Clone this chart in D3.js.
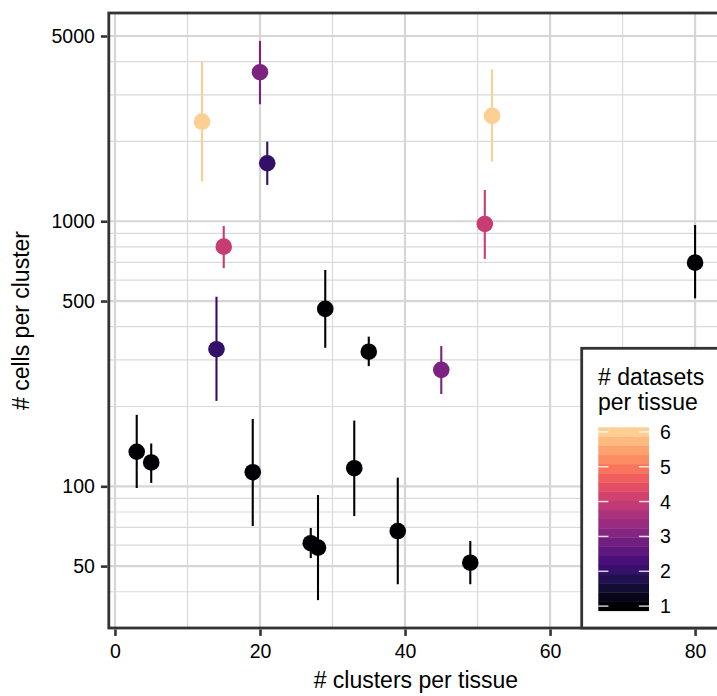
<!DOCTYPE html>
<html>
<head>
<meta charset="utf-8">
<script src="https://cdn.jsdelivr.net/npm/d3@7"></script>
<style>
  body { margin: 0; background: #fff; }
  text { font-family: "Liberation Sans", Arial, Helvetica, sans-serif; fill: #000; }
</style>
</head>
<body>
<svg id="chart" width="717" height="696"></svg>
<script>
// Per-tissue summary: clusters per tissue vs. median cells per cluster (with range)
const clustersPerTissue = [12, 20, 21, 15, 14, 29, 35, 45, 51, 52, 80, 3, 5, 19, 27, 28, 33, 39, 49];
const cellsPerCluster   = [2376, 3650, 1655, 802, 329, 467, 322, 275, 977, 2497, 698, 135, 123, 113, 61, 58.7, 117, 67.8, 51.5];
const cellsLow          = [1411, 2764, 1371, 665, 210, 333, 284, 223, 721, 1679, 512, 98.5, 103, 70.8, 53.6, 37.2, 77.2, 42.7, 42.7];
const cellsHigh         = [4003, 4790, 1997, 960, 519, 655, 367, 338, 1312, 3746, 968, 186, 145, 179.5, 69.6, 92.7, 177, 107.8, 62.2];
const datasetsPerTissue = [6, 3, 2, 4, 2, 1, 1, 3, 4, 6, 1, 1, 1, 1, 1, 1, 1, 1, 1];

const xTicks = [0, 20, 40, 60, 80];
const xMinor = [10, 30, 50, 70];
const yTicks = [50, 100, 500, 1000, 5000];
const yMinor = [40, 60, 70, 80, 90, 200, 300, 400, 600, 700, 800, 900, 2000, 3000, 4000];
const legendTicks = [1, 2, 3, 4, 5, 6];
const legendTitle = ["# datasets", "per tissue"];

const svg = d3.select("#chart");

const panel = { left: 108.8, top: 13, right: 723, bottom: 628 };

const x = d3.scaleLinear().domain([-0.85, 83.85]).range([panel.left, panel.right]);
const y = d3.scaleLog().domain([29.2, 6105]).range([panel.bottom, panel.top]);

// magma palette, trimmed at the light end
const color = v => d3.interpolateMagma((v - 1) / 5 * 0.9);

// grid
const grid = svg.append("g");
grid.selectAll(".ymin").data(yMinor).join("line")
  .attr("x1", panel.left).attr("x2", panel.right)
  .attr("y1", d => y(d)).attr("y2", d => y(d))
  .attr("stroke", "#dadada").attr("stroke-width", 1.2);
grid.selectAll(".xmin").data(xMinor).join("line")
  .attr("y1", panel.top).attr("y2", panel.bottom)
  .attr("x1", d => x(d)).attr("x2", d => x(d))
  .attr("stroke", "#dadada").attr("stroke-width", 1.2);
grid.selectAll(".ymaj").data(yTicks).join("line")
  .attr("x1", panel.left).attr("x2", panel.right)
  .attr("y1", d => y(d)).attr("y2", d => y(d))
  .attr("stroke", "#d6d6d6").attr("stroke-width", 2.2);
grid.selectAll(".xmaj").data(xTicks).join("line")
  .attr("y1", panel.top).attr("y2", panel.bottom)
  .attr("x1", d => x(d)).attr("x2", d => x(d))
  .attr("stroke", "#d6d6d6").attr("stroke-width", 2.2);

// points with ranges
const data = clustersPerTissue.map((c, i) => ({
  x: c, y: cellsPerCluster[i], lo: cellsLow[i], hi: cellsHigh[i], n: datasetsPerTissue[i]
}));
const marks = svg.append("g").selectAll("g").data(data).join("g");
marks.append("line")
  .attr("x1", d => x(d.x)).attr("x2", d => x(d.x))
  .attr("y1", d => y(d.lo)).attr("y2", d => y(d.hi))
  .attr("stroke", d => color(d.n)).attr("stroke-width", 2.1);
marks.append("circle")
  .attr("cx", d => x(d.x)).attr("cy", d => y(d.y)).attr("r", 8.3)
  .attr("fill", d => color(d.n));

// panel border
svg.append("rect")
  .attr("x", panel.left).attr("y", panel.top)
  .attr("width", panel.right - panel.left).attr("height", panel.bottom - panel.top)
  .attr("fill", "none").attr("stroke", "#333").attr("stroke-width", 2.8);

// axes
const axisY = svg.append("g").attr("transform", `translate(${panel.left - 1.4},0)`)
  .call(d3.axisLeft(y).tickValues(yTicks).tickFormat(d3.format("d")).tickSize(6.5).tickPadding(6));
const axisX = svg.append("g").attr("transform", `translate(0,${panel.bottom + 1.4})`)
  .call(d3.axisBottom(x).tickValues(xTicks).tickFormat(d3.format("d")).tickSize(6.5).tickPadding(8));
[axisY, axisX].forEach(a => {
  a.select(".domain").remove();
  a.selectAll(".tick line").attr("stroke", "#333").attr("stroke-width", 2.6);
  a.selectAll(".tick text").attr("font-size", 19.5).attr("fill", "#000")
    .style("font-family", '"Liberation Sans", Arial, sans-serif');
});

svg.append("text")
  .attr("x", (panel.left + panel.right) / 2).attr("y", 688)
  .attr("text-anchor", "middle").attr("font-size", 23)
  .text("# clusters per tissue");
svg.append("text")
  .attr("transform", `translate(29,${(panel.top + panel.bottom) / 2}) rotate(-90)`)
  .attr("text-anchor", "middle").attr("font-size", 23)
  .text("# cells per cluster");

// legend
const lg = svg.append("g");
lg.append("rect")
  .attr("x", 581.7).attr("y", 348.3).attr("width", 200).attr("height", panel.bottom - 348.3)
  .attr("fill", "#fff").attr("stroke", "#333").attr("stroke-width", 2.8);
lg.selectAll(".title").data(legendTitle).join("text")
  .attr("x", 598).attr("y", (d, i) => 385 + i * 25)
  .attr("font-size", 23).text(d => d);

const bar = { x: 598.3, top: 427.3, w: 50.7, h: 183.4 };
const nbin = 20;
const binH = bar.h / nbin;
const binVals = d3.range(nbin).map(i => 1 + i * 5 / (nbin - 1));
lg.selectAll(".bin").data(binVals).join("rect")
  .attr("x", bar.x).attr("width", bar.w)
  .attr("y", (d, i) => bar.top + bar.h - (i + 1) * binH)
  .attr("height", binH + 0.4)
  .attr("fill", d => color(d));
const ly = d3.scaleLinear().domain([1, 6])
  .range([bar.top + bar.h - binH / 2, bar.top + binH / 2]);
const tickLen = bar.w / 5;
lg.selectAll(".tl").data(legendTicks).join("line")
  .attr("x1", bar.x).attr("x2", bar.x + tickLen)
  .attr("y1", d => ly(d)).attr("y2", d => ly(d))
  .attr("stroke", "#fff").attr("stroke-opacity", 0.85).attr("stroke-width", 1.4);
lg.selectAll(".tr").data(legendTicks).join("line")
  .attr("x1", bar.x + bar.w - tickLen).attr("x2", bar.x + bar.w)
  .attr("y1", d => ly(d)).attr("y2", d => ly(d))
  .attr("stroke", "#fff").attr("stroke-opacity", 0.85).attr("stroke-width", 1.4);
lg.selectAll(".lab").data(legendTicks).join("text")
  .attr("x", 660).attr("y", d => ly(d)).attr("dy", "0.36em")
  .attr("font-size", 19.5).text(d => d);
</script>
</body>
</html>
